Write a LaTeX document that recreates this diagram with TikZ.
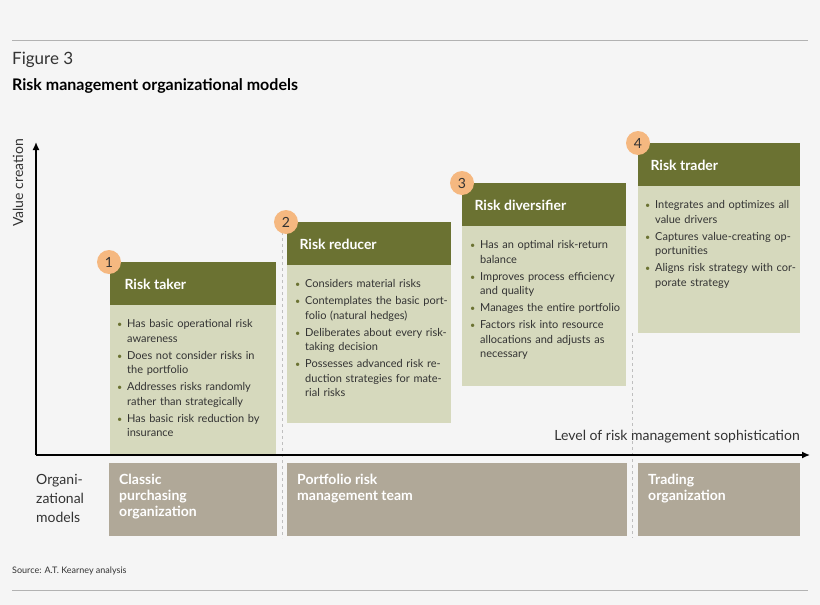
\documentclass[tikz,border=0pt]{standalone}
\usepackage{fontspec}
\usetikzlibrary{arrows.meta}
\setmainfont{Lato}
\definecolor{bg}{HTML}{F5F5F5}
\definecolor{hdr}{HTML}{6B7232}
\definecolor{bdy}{HTML}{D6D9BD}
\definecolor{org}{HTML}{F5B880}
\definecolor{bot}{HTML}{B0A898}
\definecolor{bul}{HTML}{6B7232}
\definecolor{txt}{HTML}{333333}
\newcommand{\bi}[1]{\par\hangindent=10pt\hangafter=1\noindent\makebox[10pt][l]{\textcolor{bul}{\small\textbullet}}#1\par\vspace{2.5pt}}
\begin{document}
\begin{tikzpicture}[x=1pt,y=-1pt,
  hdrbox/.style={fill=hdr,draw=none},
  bdybox/.style={fill=bdy,draw=none},
  htext/.style={anchor=west,text=white,font=\fontsize{14}{16}\selectfont\bfseries},
  btext/.style={anchor=north west,text=txt,align=left,font=\fontsize{11}{14.5}\selectfont,inner sep=0pt},
  numc/.style={circle,fill=org,draw=none,minimum size=24pt,inner sep=0pt,text=txt,font=\fontsize{14}{14}\selectfont},
  botbox/.style={fill=bot,draw=none},
  bottext/.style={anchor=north west,text=white,align=left,font=\fontsize{14}{16}\selectfont\bfseries,inner sep=0pt},
  dsh/.style={draw=gray!50,dashed,line width=0.6pt}]
\fill[bg] (0,0) rectangle (820,605);
\useasboundingbox (0,0) rectangle (820,605);
\draw[gray!60,line width=0.8pt] (12,40) -- (808,40);
\draw[gray!60,line width=0.8pt] (12,590) -- (808,590);
\node[anchor=west,inner sep=0pt,text=txt,font=\fontsize{17}{17}\selectfont] (fig) at (12,60) {Figure 3};
\node[anchor=west,inner sep=0pt,text=black,font=\fontsize{16}{16}\selectfont\bfseries] (ttl) at (12,86) {Risk management organizational models};
% dashed dividers
\draw[dsh] (282,232) -- (282,538);
\draw[dsh] (632,333) -- (632,538);
% boxes
\fill[bdybox] (110,305) rectangle (276,455);
\fill[hdrbox] (110,262) rectangle (276,305);
\fill[bdybox] (287,265) rectangle (451,423);
\fill[hdrbox] (287,222) rectangle (451,265);
\fill[bdybox] (462,226) rectangle (626,386);
\fill[hdrbox] (462,183) rectangle (626,226);
\fill[bdybox] (638,186) rectangle (800,333);
\fill[hdrbox] (638,143) rectangle (800,186);
\node[htext] (h1) at (121,284) {Risk taker};
\node[htext] (h2) at (296,244) {Risk reducer};
\node[htext] (h3) at (471,205) {Risk diversifier};
\node[htext] (h4) at (647,165) {Risk trader};
\node[btext,text width=155pt] (b1) at (117,313) {\bi{Has basic operational risk awareness}\bi{Does not consider risks in the portfolio}\bi{Addresses risks randomly rather than strategically}\bi{Has basic risk reduction by insurance}};
\node[btext,text width=155pt] (b2) at (295,273) {\bi{Considers material risks}\bi{Contemplates the basic portfolio (natural hedges)}\bi{Deliberates about every risk-taking decision}\bi{Possesses advanced risk reduction strategies for material risks}};
\node[btext,text width=150pt] (b3) at (470,234) {\bi{Has an optimal risk-return balance}\bi{Improves process efficiency and quality}\bi{Manages the entire portfolio}\bi{Factors risk into resource allocations and adjusts as necessary}};
\node[btext,text width=155pt] (b4) at (645,194) {\bi{Integrates and optimizes all value drivers}\bi{Captures value-creating opportunities}\bi{Aligns risk strategy with corporate strategy}};
\node[numc] (n1) at (109,262) {1};
\node[numc] (n2) at (286,222) {2};
\node[numc] (n3) at (462,183) {3};
\node[numc] (n4) at (638,143) {4};
% axes
\coordinate (o) at (36,455);
\coordinate (yt) at (36,142);
\coordinate (xt) at (810,455);
\draw[line width=1.4pt,-{Latex[length=8pt,width=7pt]}] (o) -- (yt);
\draw[line width=1.4pt,-{Latex[length=8pt,width=7pt]}] (o) -- (xt);
\node[rotate=90,text=txt,inner sep=0pt,font=\fontsize{14}{14}\selectfont] (vc) at (18,183) {Value creation};
\node[anchor=east,text=txt,inner sep=0pt,font=\fontsize{14}{14}\selectfont] (lv) at (800,437) {Level of risk management sophistication};
% bottom row
\fill[botbox] (109,463) rectangle (277,536);
\fill[botbox] (287,463) rectangle (627,536);
\fill[botbox] (638,463) rectangle (800,536);
\node[bottext] (o1) at (119,474) {Classic\\purchasing\\organization};
\node[bottext] (o2) at (297,474) {Portfolio risk\\management team};
\node[bottext] (o3) at (648,474) {Trading\\organization};
\node[anchor=north west,align=left,inner sep=0pt,text=txt,font=\fontsize{14}{19}\selectfont] (om) at (36,474) {Organi-\\zational\\models};
\node[anchor=west,inner sep=0pt,text=txt,font=\fontsize{9}{9}\selectfont] (src) at (12,571) {Source: A.T. Kearney analysis};
\end{tikzpicture}
\end{document}
